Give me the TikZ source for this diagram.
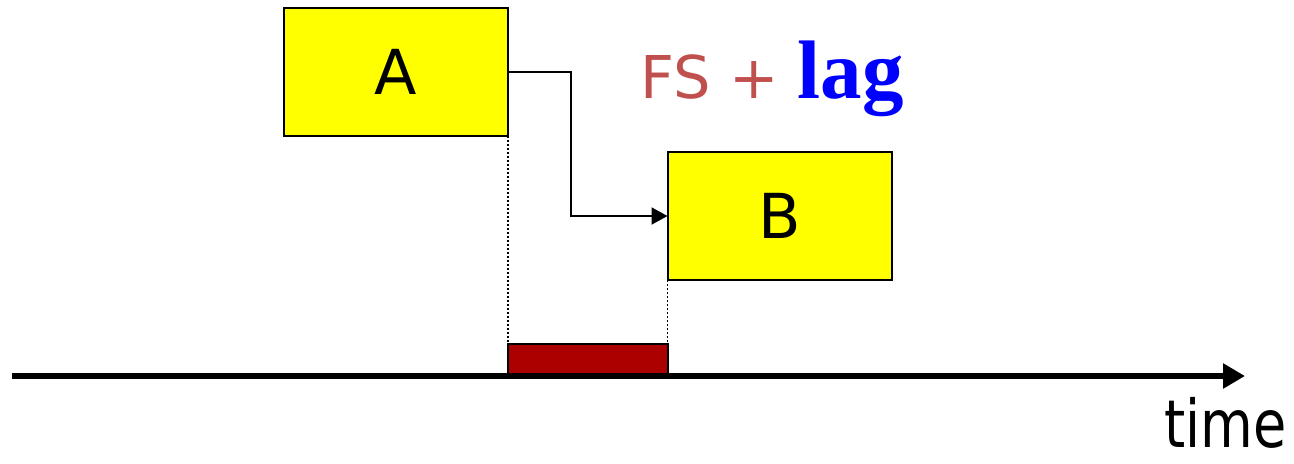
\documentclass[tikz,border=0pt]{standalone}
\usepackage{fontspec}
\usepackage{graphicx}
\setmainfont{DejaVu Sans}
\newfontfamily\serifbold{Liberation Serif}
\usetikzlibrary{arrows.meta}
\definecolor{taskyellow}{HTML}{FFFF00}
\definecolor{lagred}{HTML}{AA0000}
\definecolor{fsred}{HTML}{C0504D}
\definecolor{lagblue}{HTML}{0000FF}
\tikzset{
  task/.style={draw=black, line width=1pt, fill=taskyellow, inner sep=0pt, outer sep=0pt,
    minimum width=112pt, minimum height=64pt, font=\fontsize{31}{31}\selectfont},
  lagbar/.style={draw=black, line width=1.2pt, fill=lagred, inner sep=0pt, outer sep=0pt,
    minimum width=80pt, minimum height=15.5pt},
  link/.style={line width=1pt, -{Triangle[length=8pt,width=8.5pt]}},
  guide/.style={line width=0.6pt, dash pattern=on 1pt off 1pt},
  axis/.style={line width=3pt, -{Triangle[length=11pt,width=12pt]}}
}
\begin{document}
\begin{tikzpicture}[x=0.5pt, y=-0.5pt]
  \useasboundingbox (0,0) rectangle (1294,463);

  % activities
  \node[task] (A) at (396,72) {A};
  \node[task] (B) at (779.5,216) {B};

  % lag interval on the time line
  \node[lagbar] (lag) at (588,359.5) {};

  % finish-to-start link with lag
  \coordinate (bend) at (571,72);
  \draw[link] (A.east) -- (bend) |- (B.west);

  % projections onto the time line
  \draw[guide] (A.south east) -- (A.south east |- lag.north);
  \draw[guide] (B.south west) -- (B.south west |- lag.north);

  % time axis
  \coordinate (t0) at (12,376);
  \coordinate (t1) at (1245,376);
  \draw[axis] (t0) -- (t1);

  \node[anchor=base east, inner sep=0pt] (timelabel) at (1287,447)
    {\scalebox{0.82}[1]{\fontsize{33}{33}\selectfont time}};

  % relationship label
  \node[anchor=base west, inner sep=0pt] (rel) at (640,98)
    {\fontsize{29.5}{29.5}\selectfont\color{fsred}FS +
     {\serifbold\bfseries\fontsize{41.5}{41.5}\selectfont\color{lagblue}lag}};
\end{tikzpicture}
\end{document}
